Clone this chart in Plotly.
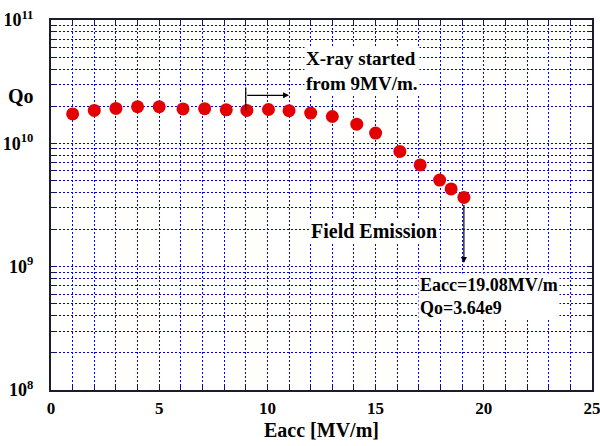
import math
import plotly.graph_objects as go

# ---- data ----
eacc = [1, 2, 3, 4, 5, 6.1, 7.1, 8.1, 9.05, 10.05, 11, 12, 13,
        14.13, 15.0, 16.12, 17.06, 17.96, 18.49, 19.08]
qo = [1.73e10, 1.85e10, 1.92e10, 1.98e10, 1.98e10, 1.90e10, 1.91e10, 1.87e10,
      1.85e10, 1.88e10, 1.84e10, 1.76e10, 1.65e10,
      1.43e10, 1.21e10, 8.6e9, 6.68e9, 5.04e9, 4.27e9, 3.64e9]

x_ticks = list(range(0, 26))
x_ticktext = [str(v) if v % 5 == 0 else "" for v in x_ticks]
decades = [8, 9, 10, 11]
y_ticks = []
y_ticktext = []
for d in decades:
    for m in range(1, 10):
        if d == 11 and m > 1:
            break
        y_ticks.append(m * 10 ** d)
        y_ticktext.append(f"10<sup>{d}</sup>" if m == 1 else "")

xray_onset = 9
xray_arrow_end = 11
fe_eacc = 19.08
fe_qo = 3.64e9
fe_arrow_tip = 1.07e9

FONT = "Liberation Serif"
GRID = "#0000ff"
AXIS = "#1c1c30"

fig = go.Figure()
fig.add_trace(go.Scatter(
    x=eacc, y=qo, mode="markers",
    marker=dict(size=13, color="#e30000", line=dict(width=0)),
    showlegend=False,
))

fig.update_layout(
    width=600, height=446,
    margin=dict(l=51, r=8, t=20, b=56),
    paper_bgcolor="white", plot_bgcolor="white",
    font=dict(family=FONT, color="black", weight="bold"),
    xaxis=dict(
        range=[0, 25], tickvals=x_ticks, ticktext=x_ticktext,
        ticks="inside", ticklen=4, tickcolor=AXIS, mirror="allticks",
        showline=True, linecolor=AXIS, linewidth=2,
        showgrid=True, gridcolor=GRID, griddash="2px,2px", gridwidth=1,
        zeroline=False, automargin=False, ticklabeloverflow="allow",
        tickfont=dict(family=FONT, size=17, weight="bold", color="black"),
        ticklabelstandoff=2,
        title=dict(text="Eacc [MV/m]", font=dict(family=FONT, size=20, weight="bold"), standoff=6),
    ),
    yaxis=dict(
        type="log", range=[8, 11], tickvals=y_ticks, ticktext=y_ticktext,
        ticks="inside", ticklen=4, tickcolor=AXIS, mirror="allticks",
        showline=True, linecolor=AXIS, linewidth=2,
        showgrid=True, gridcolor=GRID, griddash="2px,2px", gridwidth=1,
        zeroline=False, automargin=False, ticklabeloverflow="allow",
        tickfont=dict(family=FONT, size=18, weight="bold", color="black"),
        ticklabelstandoff=12,
    ),
)

# Qo axis label (horizontal)
fig.add_annotation(text="Qo", xref="paper", yref="paper", x=-0.027, y=0.795,
                   xanchor="right", yanchor="middle", showarrow=False,
                   font=dict(family=FONT, size=20, weight="bold"))

# X-ray onset marker
fig.add_shape(type="line", xref="x", yref="y",
              x0=xray_onset, x1=xray_onset, y0=qo[8], y1=2.84e10,
              line=dict(color="black", width=1.2))
fig.add_annotation(x=xray_arrow_end, y=math.log10(2.45e10),
                   ax=xray_onset, ay=math.log10(2.45e10), axref="x", ayref="y",
                   text="", showarrow=True, arrowhead=2, arrowsize=1,
                   arrowwidth=1.2, arrowcolor="black")
fig.add_annotation(text="X-ray started<br>from 9MV/m.", x=11.7, y=10.586,
                   xanchor="left", yanchor="middle", align="left",
                   showarrow=False, bgcolor="white",
                   font=dict(family=FONT, size=19, weight="bold"))

# Field emission
fig.add_annotation(text="Field Emission", x=11.9, y=9.289,
                   xanchor="left", yanchor="middle", showarrow=False,
                   bgcolor="white", font=dict(family=FONT, size=20, weight="bold"))
fig.add_annotation(x=fe_eacc, y=math.log10(fe_arrow_tip),
                   ax=fe_eacc, ay=math.log10(fe_qo), axref="x", ayref="y",
                   text="", showarrow=True, arrowhead=2, arrowsize=1,
                   arrowwidth=1.2, arrowcolor="black", standoff=0, startstandoff=6)
fig.add_annotation(text=f"Eacc={fe_eacc:.2f}MV/m<br>Qo={fe_qo:.2e}".replace("e+09", "e9"),
                   x=16.95, y=8.762, xanchor="left", yanchor="middle", align="left",
                   showarrow=False, bgcolor="white",
                   font=dict(family=FONT, size=18, weight="bold"))

fig.write_html("out.html", config={"displayModeBar": False},
               post_script="document.body.style.margin='0';document.body.style.overflow='hidden';")
